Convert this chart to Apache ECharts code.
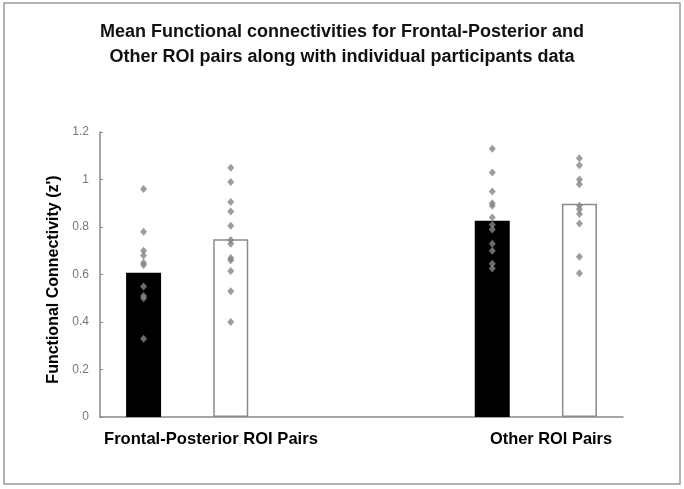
<!DOCTYPE html>
<html>
<head>
<meta charset="utf-8">
<script src="https://cdn.jsdelivr.net/npm/echarts@6/dist/echarts.min.js"></script>
<style>
html,body{margin:0;padding:0;background:#fff;}
#chart{width:684px;height:489px;}
</style>
</head>
<body>
<div id="chart"></div>
<script>
// ---- data ----
var titleLines = ['Mean Functional connectivities for Frontal-Posterior and', 'Other ROI pairs along with individual participants data'];
var yAxisTitle = "Functional Connectivity (z')";
var groupLabels = ['Frontal-Posterior ROI Pairs', 'Other ROI Pairs'];
// slots on the category axis (two bars per group, gap between groups)
var slots = ['fp-a', 'fp-b', 'gap1', 'gap2', 'other-a', 'other-b'];
var barSlots = [0, 1, 4, 5];
var barMeans = [0.607, 0.748, 0.826, 0.898];
var barIsBlack = [true, false, true, false];
var fpBlack = [0.96, 0.78, 0.70, 0.68, 0.65, 0.64, 0.55, 0.51, 0.50, 0.33];
var fpWhite = [1.05, 0.99, 0.905, 0.865, 0.805, 0.745, 0.73, 0.67, 0.66, 0.615, 0.53, 0.40];
var otherBlack = [1.13, 1.03, 0.95, 0.90, 0.89, 0.84, 0.81, 0.79, 0.73, 0.70, 0.645, 0.625];
var otherWhite = [1.09, 1.06, 1.00, 0.98, 0.89, 0.875, 0.855, 0.815, 0.675, 0.605];
var participantSets = [fpBlack, fpWhite, otherBlack, otherWhite];
var yMin = 0, yMax = 1.2, yStep = 0.2;

// ---- build ----
var FONT = '"Liberation Sans", Arial, sans-serif';
var barData = slots.map(function () { return '-'; });
barSlots.forEach(function (s, i) {
  barData[s] = {
    value: barMeans[i],
    itemStyle: barIsBlack[i]
      ? { color: '#000', borderColor: '#000', borderWidth: 0 }
      : { color: '#fff', borderColor: '#8a8a8a', borderWidth: 1.5 }
  };
});
var pts = [];
participantSets.forEach(function (arr, i) {
  arr.forEach(function (v) { pts.push([barSlots[i], v]); });
});

var chart = echarts.init(document.getElementById('chart'));
chart.setOption({
  animation: false,
  backgroundColor: '#fff',
  title: {
    text: titleLines.join('\n'),
    left: 'center',
    top: 15,
    textStyle: { fontFamily: FONT, fontSize: 18, fontWeight: 'bold', color: '#111', lineHeight: 25 }
  },
  grid: { left: 100, right: 61, top: 132, bottom: 72 },
  xAxis: {
    type: 'category',
    data: slots,
    boundaryGap: true,
    axisLine: { show: true, lineStyle: { color: '#8a8a8a', width: 1.5 } },
    axisTick: { show: false },
    axisLabel: { show: false }
  },
  yAxis: {
    type: 'value',
    min: yMin, max: yMax, interval: yStep,
    name: yAxisTitle,
    nameLocation: 'middle',
    nameRotate: 90,
    nameGap: 36,
    nameTextStyle: { fontFamily: FONT, fontSize: 16, fontWeight: 'bold', color: '#000', padding: [0, 10, 0, 0] },
    axisLine: { show: true, lineStyle: { color: '#8a8a8a', width: 1.5 } },
    axisTick: { show: true, inside: true, length: 3, lineStyle: { color: '#8a8a8a' } },
    splitLine: { show: false },
    axisLabel: { fontFamily: FONT, fontSize: 12, color: '#777', margin: 11 }
  },
  series: [
    {
      type: 'bar',
      data: barData,
      barWidth: 35,
      z: 2
    },
    {
      type: 'scatter',
      data: pts,
      symbol: 'diamond',
      symbolSize: [7, 8],
      itemStyle: { color: '#858585' },
      z: 5
    }
  ],
  graphic: [
    {
      type: 'rect',
      shape: { x: 4, y: 3, width: 676, height: 481 },
      style: { fill: 'none', stroke: '#9a9a9a', lineWidth: 1.5 },
      silent: true
    },
    {
      type: 'text',
      left: 104, top: 431,
      style: { text: groupLabels[0], font: 'bold 16.6px ' + FONT, fill: '#000' }
    },
    {
      type: 'text',
      left: 490, top: 431,
      style: { text: groupLabels[1], font: 'bold 16.4px ' + FONT, fill: '#000' }
    }
  ]
});
</script>
</body>
</html>
